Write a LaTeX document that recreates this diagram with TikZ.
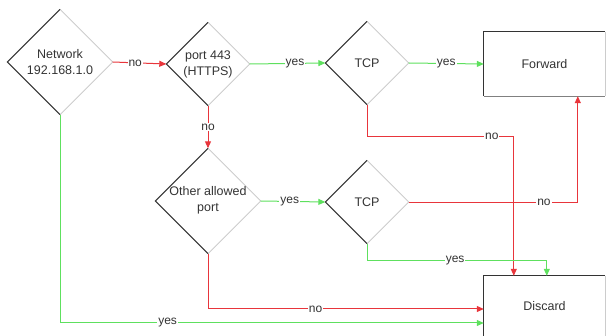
\documentclass[tikz,border=0pt]{standalone}
\usepackage{fontspec}
\setmainfont{Liberation Sans}
\usetikzlibrary{shapes.geometric,arrows.meta,calc}
\definecolor{rl}{HTML}{E8353B}
\definecolor{gl}{HTML}{5EE05E}
\definecolor{txt}{HTML}{333333}
\definecolor{edgedark}{HTML}{333333}
\definecolor{edgelight}{HTML}{CCCCCC}
\tikzset{
  dia/.style={diamond, draw=none, inner sep=0pt, minimum width=#1, minimum height=#1},
  box/.style={rectangle, draw=none, minimum width=121pt, minimum height=64pt},
  ntext/.style={text=txt, align=center, font=\fontsize{12.5}{16}\selectfont, inner sep=0pt},
  lab/.style={text=txt, fill=white, inner sep=1pt, font=\fontsize{12}{14}\selectfont},
  redline/.style={color=rl, line width=1pt, -{Triangle[length=7pt,width=6pt]}},
  greenline/.style={color=gl, line width=1pt, -{Triangle[length=7pt,width=6pt]}},
}
\newcommand{\diaedges}[1]{%
  \draw[edgelight, line width=0.9pt] (#1.north) -- (#1.east) -- (#1.south);
  \draw[edgedark, line width=1.1pt] (#1.north) -- (#1.west) -- (#1.south);}
\newcommand{\boxedges}[1]{%
  \draw[edgelight, line width=0.9pt] (#1.north east) -- (#1.south east);
  \draw[gray, line width=1pt] (#1.south west) -- (#1.south east);
  \draw[edgedark, line width=1.1pt] (#1.south west) -- (#1.north west) -- (#1.north east);}
\begin{document}
\begin{tikzpicture}[x=1pt, y=-1pt]
\useasboundingbox (0,0) rectangle (608,336);
% nodes
\node[dia=105pt] (net) at (60,62) {};
\node[dia=83pt] (p443) at (208,64) {};
\node[dia=83pt] (tcpa) at (367,63) {};
\node[dia=105pt] (oth) at (208,201) {};
\node[dia=83pt] (tcpb) at (367,202) {};
\node[box] (fwd) at (544.5,64) {};
\node[box] (dis) at (544.5,308) {};
\diaedges{net}\diaedges{p443}\diaedges{tcpa}\diaedges{oth}\diaedges{tcpb}
\boxedges{fwd}\boxedges{dis}
\node[ntext] at (net) {Network\\192.168.1.0};
\node[ntext] at (p443) {port 443\\(HTTPS)};
\node[ntext] at (tcpa) {TCP};
\node[ntext] at ([yshift=1pt]oth) {Other allowed\\port};
\node[ntext] at (tcpb) {TCP};
\node[ntext] at (fwd) {Forward};
\node[ntext] at ([yshift=2pt]dis) {Discard};
\coordinate (fwdin) at ([xshift=94pt]fwd.south west);
\coordinate (tcpbout) at ([yshift=-0.4pt]tcpb.east);
% connectors
\draw[redline] (net.east) -- node[lab, pos=0.42]{no} (p443.west);
\draw[greenline] (p443.east) -- node[lab, pos=0.6]{yes} (tcpa.west);
\draw[greenline] (tcpa.east) -- node[lab]{yes} (fwd.west);
\draw[redline] (p443.south) -- node[lab]{no} (oth.north);
\draw[greenline] (oth.east) -- node[lab, pos=0.45]{yes} (tcpb.west);
\draw[redline] (tcpa.south) -- ++(0,32) -| node[lab, pos=0.425]{no} ([xshift=30pt]dis.north west);
\draw[redline, line width=1.2pt] (tcpbout) -| node[lab, pos=0.4]{no} (fwdin);
\draw[greenline] (tcpb.south) -- ++(0,17) -| node[lab, pos=0.245]{yes} ([xshift=63pt]dis.north west);
\draw[redline] (oth.south) |- node[lab, pos=0.695]{no} ([yshift=-1pt]dis.west);
\draw[greenline] (net.south) |- node[lab, pos=0.627]{yes} ([yshift=-15pt]dis.west);
\end{tikzpicture}
\end{document}
